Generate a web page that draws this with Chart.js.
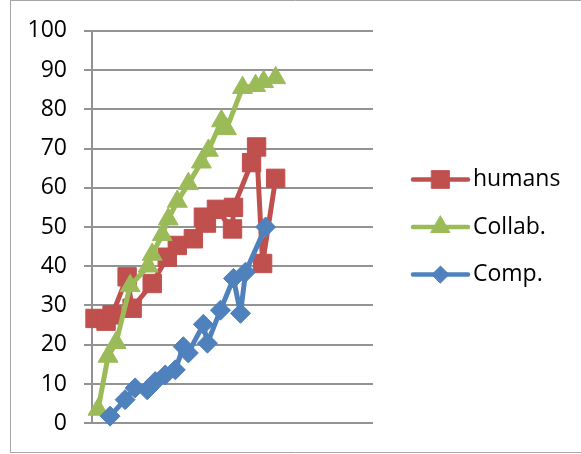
<!DOCTYPE html>
<html>
<head>
<meta charset="utf-8">
<script src="https://cdn.jsdelivr.net/npm/chart.js@4/dist/chart.umd.min.js"></script>
<style>
  html, body { margin: 0; padding: 0; background: #ffffff; }
  #wrap { width: 581px; height: 454px; position: relative; }
</style>
</head>
<body>
<div id="wrap"><canvas id="chart" width="581" height="454"></canvas></div>
<script>
// Series names
const seriesNames = ['humans', 'Collab.', 'Comp.'];

// humans
const humansX = [0.3, 1.4, 2.0, 3.5, 4.0, 6.0, 7.5, 8.5, 10.1, 11.1, 11.4, 12.4, 14.0, 14.1, 15.9, 16.4, 17.0, 18.3];
const humansY = [26.7, 26.0, 27.6, 37.3, 29.3, 35.6, 42.3, 45.3, 47.0, 52.5, 51.0, 54.5, 49.5, 55.0, 66.4, 70.4, 40.7, 62.4];

// Collab.
const collabX = [0.6, 1.6, 2.4, 3.8, 5.6, 6.0, 7.0, 7.6, 8.5, 9.6, 10.9, 11.6, 12.9, 13.4, 15.0, 16.3, 17.1, 18.3];
const collabY = [3.5, 17.0, 20.5, 35.0, 40.0, 43.0, 48.0, 52.0, 56.5, 61.0, 66.5, 69.5, 77.0, 75.0, 85.5, 86.0, 87.0, 88.0];

// Comp.
const compX = [1.8, 3.3, 4.3, 5.5, 6.3, 7.3, 8.3, 9.1, 9.6, 11.1, 11.5, 12.8, 14.1, 14.8, 15.3, 17.3];
const compY = [1.8, 6.0, 9.0, 8.5, 10.6, 12.3, 13.6, 19.5, 17.9, 25.2, 20.4, 28.8, 36.9, 28.0, 38.5, 50.0];

// Y axis ticks
const yTickValues = [0, 10, 20, 30, 40, 50, 60, 70, 80, 90, 100];

const RED = '#C0504D';
const GREEN = '#9BBB59';
const BLUE = '#4F81BD';
const FONT = '"Open Sans", "Liberation Sans", sans-serif';

function pts(xs, ys) {
  return xs.map((x, i) => ({ x: x, y: ys[i] }));
}

function series(label, xs, ys, color, style, radius, order) {
  return {
    label: label,
    data: pts(xs, ys),
    borderColor: color,
    backgroundColor: color,
    borderWidth: 5,
    borderJoinStyle: 'round',
    borderCapStyle: 'round',
    pointStyle: style,
    pointRadius: radius,
    pointHoverRadius: radius,
    pointBackgroundColor: color,
    pointBorderColor: color,
    pointBorderWidth: 1,
    tension: 0,
    showLine: true,
    fill: false,
    clip: false,
    order: order
  };
}

const datasets = [
  series(seriesNames[0], humansX, humansY, RED, 'rect', 13, 3),
  series(seriesNames[1], collabX, collabY, GREEN, 'triangle', 11.5, 2),
  series(seriesNames[2], compX, compY, BLUE, 'rectRot', 10, 1)
];

// Outer frame of the chart
const framePlugin = {
  id: 'frame',
  beforeDraw(chart) {
    const ctx = chart.ctx;
    ctx.save();
    ctx.fillStyle = '#ffffff';
    ctx.fillRect(0, 0, chart.width, chart.height);
    ctx.strokeStyle = '#a6a6a6';
    ctx.lineWidth = 1;
    ctx.beginPath();
    ctx.moveTo(10, 0.5); ctx.lineTo(chart.width, 0.5);
    ctx.moveTo(10.5, 0); ctx.lineTo(10.5, 453);
    ctx.moveTo(10, 452.5); ctx.lineTo(chart.width, 452.5);
    ctx.stroke();
    ctx.restore();
  }
};

// Legend with a line sample and marker for each series
const lineLegendPlugin = {
  id: 'lineLegend',
  afterDraw(chart) {
    const ctx = chart.ctx;
    const area = chart.chartArea;
    const mid = (area.top + area.bottom) / 2;
    const gap = 47.5;
    const x0 = 413, x1 = 468, tx = 473;
    ctx.save();
    chart.data.datasets.forEach((ds, i) => {
      const y = mid + (i - 1) * gap;
      ctx.strokeStyle = ds.borderColor;
      ctx.lineWidth = 4.5;
      ctx.lineCap = 'round';
      ctx.beginPath();
      ctx.moveTo(x0, y);
      ctx.lineTo(x1, y);
      ctx.stroke();
      ctx.fillStyle = ds.pointBackgroundColor;
      ctx.strokeStyle = ds.pointBorderColor;
      ctx.lineWidth = 1;
      Chart.helpers.drawPoint(ctx, {
        pointStyle: ds.pointStyle,
        radius: ds.pointStyle === 'rectRot' ? 8.5 : (ds.pointStyle === 'rect' ? 12.5 : 11),
        rotation: 0,
        borderWidth: 1
      }, (x0 + x1) / 2, y);
      ctx.fillStyle = '#000000';
      ctx.font = '23px ' + FONT;
      ctx.textAlign = 'left';
      ctx.textBaseline = 'middle';
      ctx.fillText(ds.label, tx, y);
    });
    ctx.restore();
  }
};

new Chart(document.getElementById('chart'), {
  type: 'scatter',
  data: { datasets: datasets },
  plugins: [framePlugin, lineLegendPlugin],
  options: {
    responsive: false,
    animation: false,
    devicePixelRatio: 1,
    layout: { padding: { left: 10, top: 29, right: 208, bottom: 30 } },
    plugins: {
      legend: { display: false },
      tooltip: { enabled: false }
    },
    scales: {
      x: {
        type: 'linear',
        display: false,
        min: 0,
        max: 28
      },
      y: {
        type: 'linear',
        min: 0,
        max: 100,
        afterFit(scale) { scale.width = 82; },
        afterBuildTicks(scale) { scale.ticks = yTickValues.map(v => ({ value: v })); },
        grid: {
          color: '#939393',
          lineWidth: 2,
          tickLength: 8,
          drawTicks: true
        },
        border: { display: true, color: '#939393', width: 2 },
        ticks: {
          padding: 17,
          color: '#000000',
          font: { family: FONT, size: 23 }
        }
      }
    }
  }
});
</script>
</body>
</html>
